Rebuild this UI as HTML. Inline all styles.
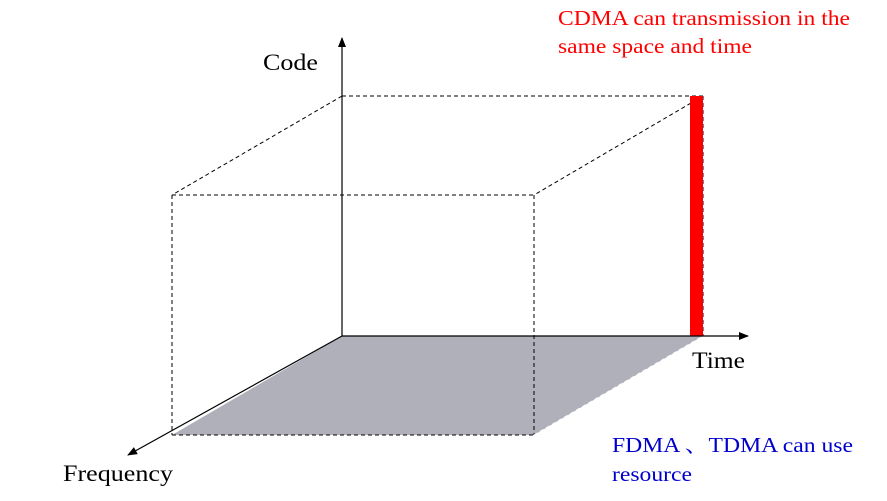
<!DOCTYPE html>
<html><head><style>
body{margin:0;width:887px;height:496px;background:#fff;overflow:hidden}
svg text{font-family:"Liberation Serif","Noto Serif CJK SC",serif}
</style></head><body>
<svg width="887" height="496" viewBox="0 0 887 496">
<defs><marker id="a" markerWidth="10" markerHeight="8" refX="9" refY="4" orient="auto" markerUnits="userSpaceOnUse"><path d="M0,0 L10,4 L0,8 z" fill="#000"/></marker></defs>
<polygon points="342,336 703,336 534,435 172,435" fill="#b0b0bb"/>
<g stroke="#000" stroke-width="1" stroke-dasharray="4,3" fill="none">
<line x1="342" y1="96" x2="703" y2="96"/>
<line x1="342" y1="96" x2="172" y2="195"/>
<line x1="703" y1="96" x2="534" y2="195"/>
<line x1="172" y1="195" x2="534" y2="195"/>
<line x1="172" y1="195" x2="172" y2="435"/>
<line x1="534" y1="195" x2="534" y2="435"/>
<line x1="703" y1="96" x2="703" y2="336"/>
<line x1="172" y1="435" x2="534" y2="435"/>
<line x1="534" y1="435" x2="703" y2="336" stroke="#fff"/>
<line x1="342" y1="336" x2="703" y2="336"/>
</g>
<rect x="690" y="96" width="13" height="240" fill="#f00"/>
<g stroke="#000" stroke-width="1.2">
<line x1="342" y1="336" x2="342" y2="38" marker-end="url(#a)"/>
<line x1="342" y1="336" x2="748" y2="336" marker-end="url(#a)"/>
<line x1="342" y1="336" x2="128" y2="455" marker-end="url(#a)"/>
</g>
<g lengthAdjust="spacingAndGlyphs">
<text x="558" y="25" font-size="21" fill="#f00" textLength="292" lengthAdjust="spacingAndGlyphs">CDMA can transmission in the</text>
<text x="558" y="53" font-size="21" fill="#f00" textLength="194" lengthAdjust="spacingAndGlyphs">same space and time</text>
<text x="263" y="70" font-size="23" textLength="55" lengthAdjust="spacingAndGlyphs">Code</text>
<text x="692" y="368" font-size="23" textLength="53" lengthAdjust="spacingAndGlyphs">Time</text>
<text x="63" y="481" font-size="23" textLength="110" lengthAdjust="spacingAndGlyphs">Frequency</text>
<text x="612" y="452" font-size="21" fill="#0000cc" textLength="241" lengthAdjust="spacingAndGlyphs">FDMA 、TDMA  can use</text>
<text x="612" y="481" font-size="21" fill="#0000cc" textLength="80" lengthAdjust="spacingAndGlyphs">resource</text>
</g>
</svg>
</body></html>
